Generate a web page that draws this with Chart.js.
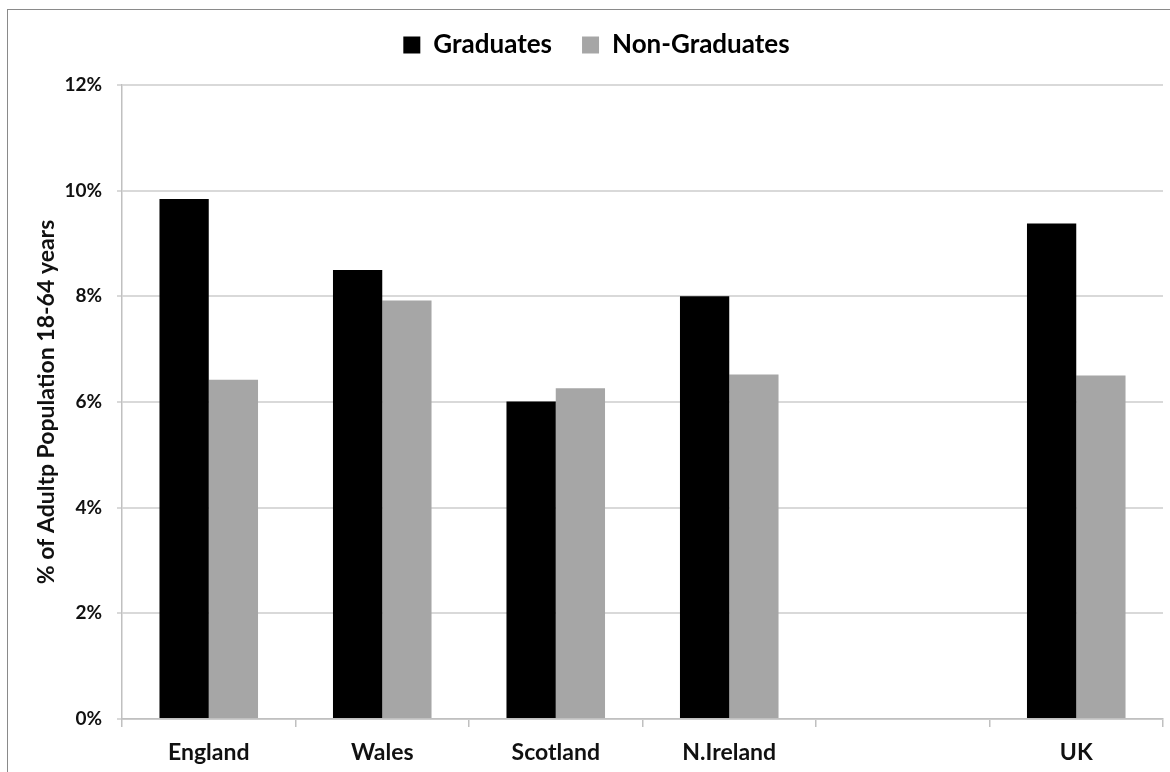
<!DOCTYPE html>
<html>
<head>
<meta charset="utf-8">
<script src="https://cdn.jsdelivr.net/npm/chart.js@4/dist/chart.umd.min.js"></script>
<style>
  html, body { margin: 0; padding: 0; background: #fff; }
  #frame { position: absolute; left: 7px; top: 9px; width: 1200px; height: 800px; border: 1px solid #8a8a8a; }
  #salesChart { position: absolute; left: 0; top: 0; }
</style>
</head>
<body>
<div id="frame"></div>
<canvas id="salesChart" width="1170" height="772"></canvas>
<script>
const regions = ['England', 'Wales', 'Scotland', 'N.Ireland', '', 'UK'];
const graduates = [9.84, 8.50, 6.01, 8.00, null, 9.38];
const nonGraduates = [6.42, 7.92, 6.26, 6.52, null, 6.50];
const yTicks = [0, 2, 4, 6, 8, 10, 12];

const font = 'Lato, "Open Sans", sans-serif';

// extra room under the legend
const legendGap = {
  id: 'legendGap',
  beforeInit(chart) {
    const fit = chart.legend.fit;
    chart.legend.fit = function () {
      fit.bind(chart.legend)();
      this.height += 17;
    };
  }
};

const ctx = document.getElementById('salesChart').getContext('2d');
const chart = new Chart(ctx, {
  type: 'bar',
  data: {
    labels: regions,
    datasets: [{
      label: 'Graduates',
      data: graduates,
      backgroundColor: '#000000'
    }, {
      label: 'Non-Graduates',
      data: nonGraduates,
      backgroundColor: '#a6a6a6'
    }]
  },
  plugins: [legendGap],
  options: {
    responsive: false,
    animation: false,
    layout: { padding: { left: 30, right: 7, top: 0, bottom: 0 } },
    datasets: { bar: { categoryPercentage: 0.568, barPercentage: 1 } },
    plugins: {
      tooltip: { enabled: false },
      legend: {
        position: 'top',
        labels: {
          boxWidth: 17,
          boxHeight: 17,
          padding: 30,
          color: '#000',
          font: { family: font, size: 26, weight: 'bold' }
        }
      }
    },
    scales: {
      x: {
        grid: { display: true, drawOnChartArea: false, drawTicks: true, tickLength: 8, color: '#c0c0c0', lineWidth: 1.5 },
        border: { color: '#c0c0c0', width: 1.5 },
        ticks: { color: '#111', padding: 12, font: { family: font, size: 23, weight: 'bold' } },
        afterFit: s => { s.height = 53; }
      },
      y: {
        min: 0,
        max: 12,
        afterBuildTicks: s => { s.ticks = yTicks.map(v => ({ value: v })); },
        grid: { color: '#d9d9d9', lineWidth: 2, tickLength: 5 },
        border: { color: '#c0c0c0', width: 1.5 },
        ticks: { color: '#111', padding: 15, font: { family: font, size: 19, weight: 'bold' }, callback: v => v + '%' },
        title: {
          display: true,
          text: '% of Adultp Population 18-64 years',
          color: '#111',
          padding: { top: 3, bottom: 0 },
          font: { family: font, size: 23, weight: 'bold' }
        },
        afterFit: s => { s.width = 92; }
      }
    }
  }
});
// pin the plot area top to where the original sits
const diff = 85 - chart.chartArea.top;
chart.options.layout.padding.top += diff;
chart.update();
</script>
</body>
</html>
